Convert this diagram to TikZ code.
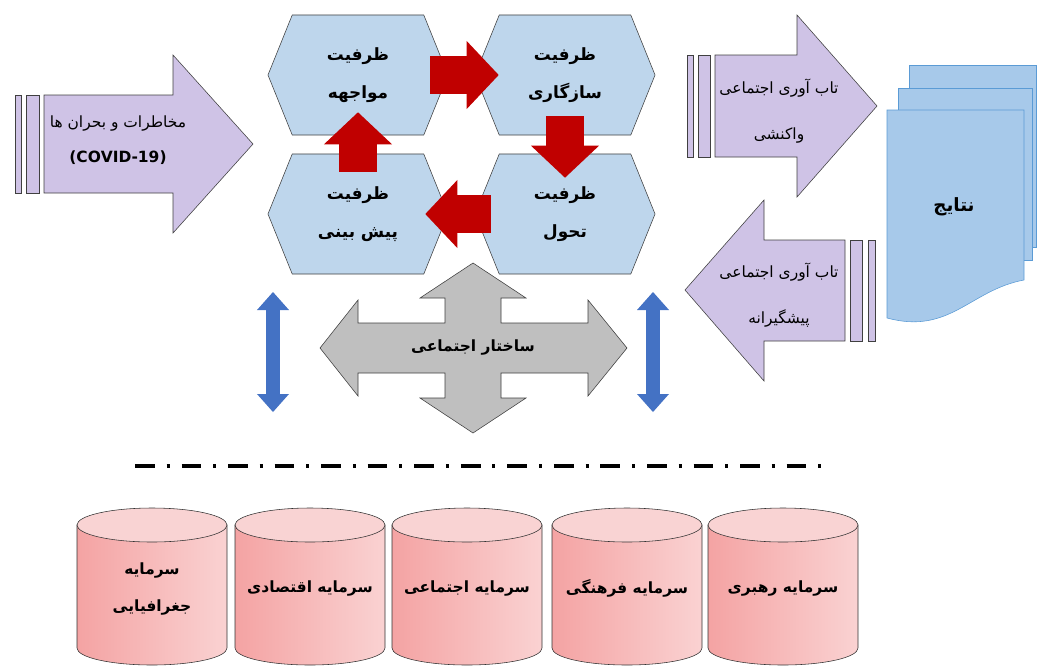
\documentclass[tikz,border=0pt]{standalone}
\usepackage{fontspec}
\newfontfamily\farsi[Script=Arabic]{DejaVu Sans}
\TeXXeTstate=1
\usetikzlibrary{shapes.symbols,arrows.meta}

\newcommand{\fa}[1]{\beginR #1\endR}

\definecolor{hexblue}{HTML}{BED6EC}
\definecolor{lavfill}{HTML}{CFC3E6}
\definecolor{capred}{HTML}{C00000}
\definecolor{arrblue}{HTML}{4472C4}
\definecolor{docblue}{HTML}{A7C9EA}
\definecolor{docline}{HTML}{5B9BD5}
\definecolor{pinkdark}{HTML}{F4A3A3}
\definecolor{pinklight}{HTML}{FAD2D2}
\definecolor{pinktop}{HTML}{F9D3D3}

\tikzset{
  hexa/.style={signal, signal to=east and west, signal pointer angle=136,
    draw=black!75, fill=hexblue, minimum width=4.5cm, minimum height=3cm,
    inner sep=0pt, align=center, font=\farsi\bfseries\fontsize{12}{27}\selectfont},
  redarrow/.style={draw=capred, line width=0.95cm,
    -{Triangle[width=1.7cm,length=0.8cm,line width=0pt]}},
  bluearrow/.style={draw=arrblue, line width=0.35cm,
    {Triangle[width=0.8cm,length=0.45cm,line width=0pt]}-{Triangle[width=0.8cm,length=0.45cm,line width=0pt]}},
  lavender/.style={draw=black!75, fill=lavfill},
  lavtext/.style={align=center, font=\farsi\fontsize{11}{25}\selectfont},
  crossfill/.style={draw=black!75, fill=black!25},
  docpage/.style={draw=docline, fill=docblue},
  cylbody/.style={draw=black!80, left color=pinkdark, right color=pinklight},
  cyltop/.style={draw=black!80, fill=pinktop},
  captext/.style={align=center, font=\farsi\bfseries\fontsize{11}{27}\selectfont},
  dashdot/.style={line width=2.4pt, dash pattern=on 14pt off 8.5pt on 2.1pt off 8.5pt}
}

\begin{document}
\begin{tikzpicture}[x=0.025cm, y=-0.025cm]
\useasboundingbox (0,0) rectangle (1038,667);

% Risks arrow
\draw[lavender] (15,95) rectangle (21,193);
\draw[lavender] (26,95) rectangle (39,193);
\draw[lavender] (44,95) -- (173,95) -- (173,55) -- (253,144) -- (173,233) -- (173,193) -- (44,193) -- cycle;
\node[lavtext] (risk) at (118,140) {\fa{مخاطرات و بحران ها}\\\textbf{(COVID-19)}};

% Capacities
\node[hexa] (confront) at (358,75) {\fa{ظرفیت}\\\fa{مواجهه}};
\node[hexa] (adapt) at (565,75) {\fa{ظرفیت}\\\fa{سازگاری}};
\node[hexa] (transform) at (565,214) {\fa{ظرفیت}\\\fa{تحول}};
\node[hexa] (foresee) at (358,214) {\fa{ظرفیت}\\\fa{پیش بینی}};

\draw[redarrow] ([xshift=-0.45cm]confront.east) -- ([xshift=0.6cm]adapt.west);
\draw[redarrow] ([yshift=0.475cm]adapt.south) -- ([yshift=-0.6cm]transform.north);
\draw[redarrow] ([xshift=0.4cm]transform.west) -- ([xshift=-0.575cm]foresee.east);
\draw[redarrow] ([yshift=-0.45cm]foresee.north) -- ([yshift=0.575cm]confront.south);

% Social structure
\draw[crossfill, shift={(473,348)}] (154,0) -- (115,-48) -- (115,-25) -- (28,-25) -- (28,-50) -- (53,-50)
  -- (0,-85) -- (-53,-50) -- (-28,-50) -- (-28,-25) -- (-115,-25) -- (-115,-48) -- (-153,0)
  -- (-115,48) -- (-115,25) -- (-28,25) -- (-28,50) -- (-53,50) -- (0,85) -- (53,50)
  -- (28,50) -- (28,25) -- (115,25) -- (115,48) -- cycle;
\node[font=\farsi\bfseries\fontsize{11}{13}\selectfont] (social) at (473,348) {\fa{ساختار اجتماعی}};

\coordinate (lefttop) at (273,292);
\coordinate (leftbot) at (273,412);
\coordinate (righttop) at (653,292);
\coordinate (rightbot) at (653,412);
\draw[bluearrow] (lefttop) -- (leftbot);
\draw[bluearrow] (righttop) -- (rightbot);

% Resilience arrows
\draw[lavender] (687,55) rectangle (693,157);
\draw[lavender] (698,55) rectangle (710,157);
\draw[lavender] (715,55) -- (797,55) -- (797,15) -- (877,106) -- (797,197) -- (797,157) -- (715,157) -- cycle;
\node[lavtext] (react) at (779,111) {\fa{تاب آوری اجتماعی}\\[8pt]\fa{واکنشی}};

\draw[lavender] (850,240) rectangle (862,341);
\draw[lavender] (868,240) rectangle (875,341);
\draw[lavender] (845,240) -- (764,240) -- (764,200) -- (685,290) -- (764,381) -- (764,341) -- (845,341) -- cycle;
\node[lavtext] (prevent) at (779,295) {\fa{تاب آوری اجتماعی}\\[8pt]\fa{پیشگیرانه}};

% Results
\draw[docpage] (909,65) rectangle (1036,247);
\draw[docpage] (898,88) rectangle (1032,260);
\draw[docpage] (887,110) -- (1024,110) -- (1024,280) .. controls (970,290) and (950,335) .. (887,318) -- cycle;
\node[font=\farsi\bfseries\fontsize{13}{15}\selectfont] (results) at (954,207) {\fa{نتایج}};

\draw[dashdot] (135,466) -- (832,466);

% Capitals
\foreach \cx in {152,310,467,627,783} {
  \draw[cylbody] (\cx-75,525) -- (\cx-75,648) arc (180:0:75 and 17) -- (\cx+75,525) -- cycle;
  \draw[cyltop] (\cx,525) ellipse (75 and 17);
}
\node[captext] (geo) at (152,589) {\fa{سرمایه}\\\fa{جغرافیایی}};
\node[captext] (econ) at (310,588) {\fa{سرمایه اقتصادی}};
\node[captext] (soc) at (467,588) {\fa{سرمایه اجتماعی}};
\node[captext] (cult) at (627,588) {\fa{سرمایه فرهنگی}};
\node[captext] (lead) at (783,588) {\fa{سرمایه رهبری}};
\end{tikzpicture}
\end{document}
